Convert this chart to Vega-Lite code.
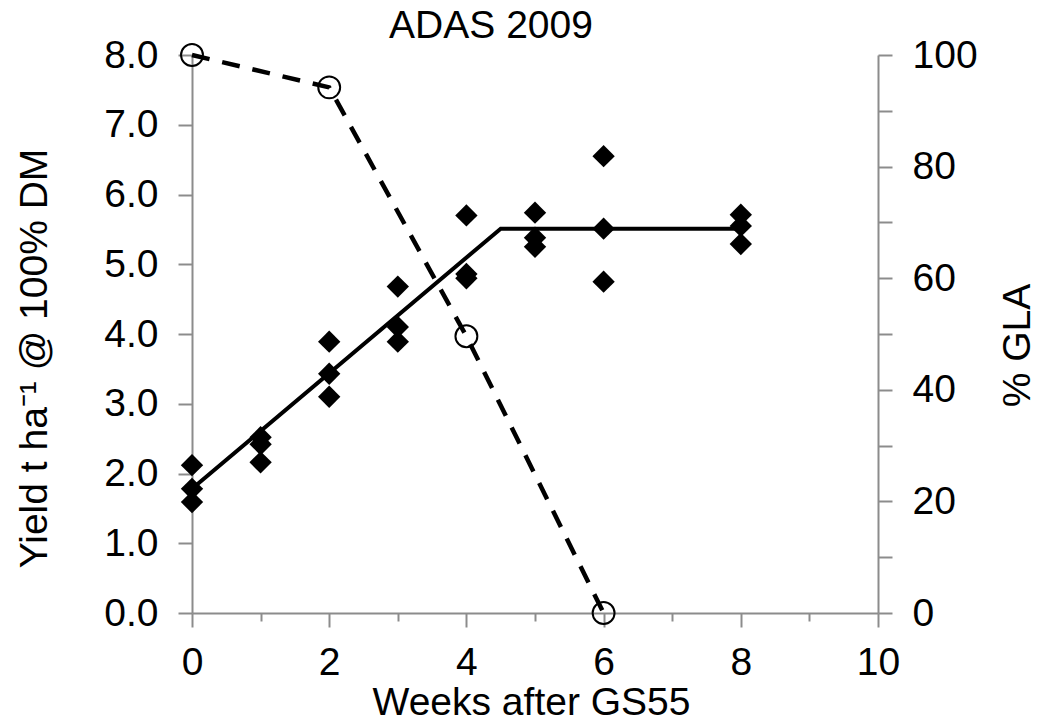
{
  "$schema": "https://vega.github.io/schema/vega-lite/v6.json",
  "width": 686,
  "height": 558,
  "autosize": {"type": "none"},
  "padding": {"left": 192, "top": 55, "right": 159, "bottom": 115},
  "background": "white",
  "config": {
    "view": {"stroke": null},
    "font": "Liberation Sans",
    "axis": {
      "grid": false,
      "domainColor": "#8c8c8c",
      "domainWidth": 2,
      "tickColor": "#8c8c8c",
      "tickWidth": 2,
      "tickSize": 14,
      "labelFont": "Liberation Sans",
      "labelFontSize": 39,
      "labelColor": "black",
      "labelPadding": 20,
      "labelFlush": false,
      "labelOverlap": false,
      "titleFont": "Liberation Sans",
      "titleFontSize": 39,
      "titleFontWeight": "normal",
      "titleColor": "black"
    }
  },
  "title": {
    "text": "ADAS 2009",
    "fontSize": 39,
    "fontWeight": "normal",
    "font": "Liberation Sans",
    "color": "black",
    "anchor": "middle",
    "dx": -44,
    "dy": 10,
    "offset": 0
  },
  "datasets": {
    "yield": [
      {"week": 0, "yield": 2.12}, {"week": 0, "yield": 1.78}, {"week": 0, "yield": 1.59},
      {"week": 1, "yield": 2.52}, {"week": 1, "yield": 2.42}, {"week": 1, "yield": 2.16},
      {"week": 2, "yield": 3.89}, {"week": 2, "yield": 3.43}, {"week": 2, "yield": 3.1},
      {"week": 3, "yield": 4.68}, {"week": 3, "yield": 4.1}, {"week": 3, "yield": 3.89},
      {"week": 4, "yield": 5.7}, {"week": 4, "yield": 4.86}, {"week": 4, "yield": 4.8},
      {"week": 5, "yield": 5.74}, {"week": 5, "yield": 5.38}, {"week": 5, "yield": 5.25},
      {"week": 6, "yield": 6.55}, {"week": 6, "yield": 5.51}, {"week": 6, "yield": 4.75},
      {"week": 8, "yield": 5.71}, {"week": 8, "yield": 5.55}, {"week": 8, "yield": 5.29}
    ],
    "fit": [
      {"week": 0, "fit": 1.78}, {"week": 4.5, "fit": 5.51}, {"week": 8, "fit": 5.51}
    ],
    "gla": [
      {"week": 0, "gla": 100}, {"week": 2, "gla": 94.2}, {"week": 4, "gla": 49.6}, {"week": 6, "gla": 0}
    ]
  },
  "layer": [
    {
      "layer": [
        {
          "data": {"name": "yield"},
          "mark": {"type": "point", "shape": "diamond", "filled": true, "color": "black", "size": 500, "opacity": 1},
          "encoding": {
            "x": {"field": "week", "type": "quantitative", "scale": {"domain": [0, 10]},
              "axis": {"values": [0,1,2,3,4,5,6,7,8,9,10], "format": "d",
                "labelExpr": "datum.value % 2 === 0 ? datum.label : ''",
                "labelPadding": 16,
                "tickSize": {"condition": {"test": "datum.value % 2 === 0", "value": 14}, "value": 8},
                "title": "Weeks after GS55", "titleX": 339, "titleY": 101, "titleBaseline": "alphabetic", "titleAlign": "center"}},
            "y": {"field": "yield", "type": "quantitative", "scale": {"domain": [0, 8]},
              "axis": {"values": [0,1,2,3,4,5,6,7,8], "format": ".1f", "title": "Yield t ha⁻¹ @ 100% DM",
                "titleAngle": 270, "titleX": -146, "titleY": 303, "titleBaseline": "alphabetic", "titleAlign": "center"}}
          }
        },
        {
          "data": {"name": "fit"},
          "mark": {"type": "line", "color": "black", "strokeWidth": 4},
          "encoding": {
            "x": {"field": "week", "type": "quantitative"},
            "y": {"field": "fit", "type": "quantitative"}
          }
        }
      ]
    },
    {
      "data": {"name": "gla"},
      "layer": [
        {
          "mark": {"type": "line", "color": "black", "strokeWidth": 4.5, "strokeDash": [18, 13]},
          "encoding": {
            "x": {"field": "week", "type": "quantitative"},
            "y": {"field": "gla", "type": "quantitative", "scale": {"domain": [0, 100]},
              "axis": {"orient": "right", "values": [0,10,20,30,40,50,60,70,80,90,100], "format": "d",
                "labelExpr": "datum.value % 20 === 0 ? datum.label : ''",
                "title": "% GLA", "titleAngle": 270, "titleX": 151, "titleY": 290, "titleBaseline": "alphabetic", "titleAlign": "center"}}
          }
        },
        {
          "mark": {"type": "point", "shape": "circle", "filled": false, "color": "black", "strokeWidth": 2, "size": 480, "opacity": 1},
          "encoding": {
            "x": {"field": "week", "type": "quantitative"},
            "y": {"field": "gla", "type": "quantitative"}
          }
        }
      ]
    }
  ],
  "resolve": {"scale": {"y": "independent"}}
}
